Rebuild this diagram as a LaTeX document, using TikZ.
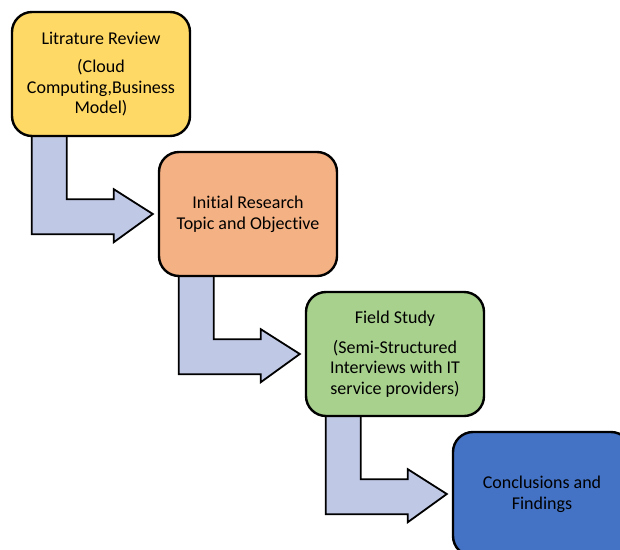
\documentclass[tikz,border=0pt]{standalone}
\usepackage{fontspec}
\setmainfont{Carlito}[Ligatures={NoCommon}]
\usetikzlibrary{calc,backgrounds}

\definecolor{litfill}{HTML}{FFD966}
\definecolor{topicfill}{HTML}{F4B183}
\definecolor{fieldfill}{HTML}{A9D18E}
\definecolor{conclfill}{HTML}{4472C4}
\definecolor{arrowfill}{HTML}{BFC8E4}

\tikzset{
  stage/.style={draw=black, line width=2.4pt, rounded corners=20pt,
    minimum width=178pt, minimum height=124pt, inner sep=2pt,
    align=center, text=black, font=\fontsize{18}{20.6}\selectfont},
  bentarrow/.style={draw=black, line width=1.8pt, fill=arrowfill, line join=miter}
}

% bent block arrow leaving the bottom of #1 and pointing at the left side of #2
\newcommand{\stagearrow}[2]{%
  \draw[bentarrow]
    ($(#1.south west)+(21,-4)$) --
    ($(#1.south west)+(21,97)$) --
    ($(#1.south west)+(103,97)$) --
    ($(#1.south west)+(103,105)$) --
    ($(#2.west)+(-5,0)$) --
    ($(#1.south west)+(103,52)$) --
    ($(#1.south west)+(103,62)$) --
    ($(#1.south west)+(56,62)$) --
    ($(#1.south west)+(56,-4)$) -- cycle;}

\begin{document}
\begin{tikzpicture}[x=1pt, y=-1pt]
  \useasboundingbox (0,0) rectangle (620,549);
  \clip (0,0) rectangle (620,549);

  \node[stage, fill=litfill] (lit) at (101,74)
    {Litrature Review\\[8pt](Cloud\\Computing,Business\\Model)};
  \node[stage, fill=topicfill] (topic) at (248,214)
    {Initial Research\\Topic and Objective};
  \node[stage, fill=fieldfill] (field) at (395,354)
    {Field Study\\[9pt](Semi-Structured\\Interviews with IT\\service providers)};
  \node[stage, fill=conclfill] (concl) at (542,494)
    {Conclusions and\\Findings};

  \begin{pgfonlayer}{background}
    \stagearrow{lit}{topic}
    \stagearrow{topic}{field}
    \stagearrow{field}{concl}
  \end{pgfonlayer}
\end{tikzpicture}
\end{document}
